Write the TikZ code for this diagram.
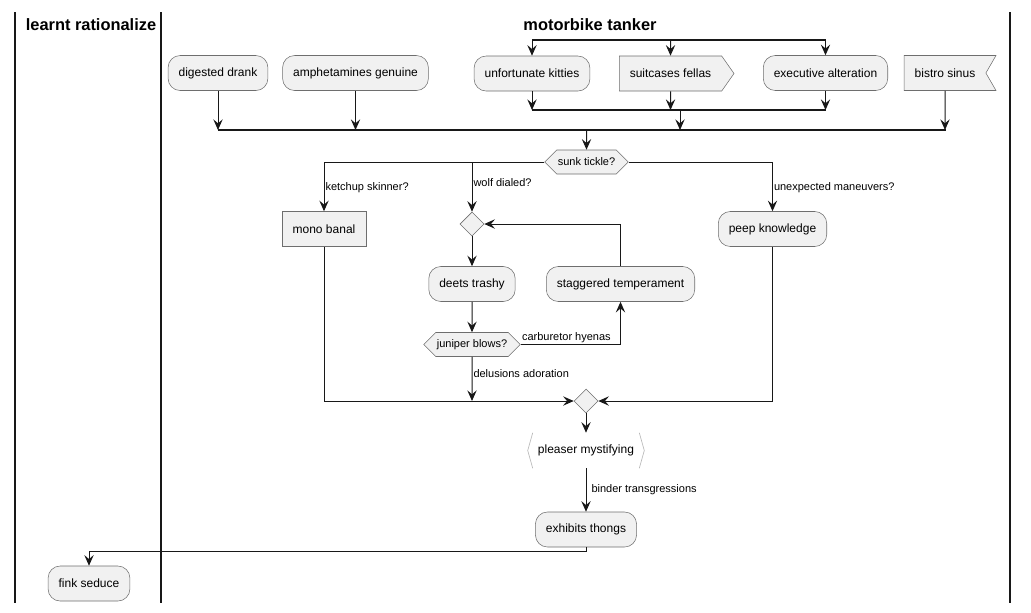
\documentclass[tikz,border=0pt]{standalone}
\usepackage{fontspec}
\setmainfont{Liberation Sans}
\usetikzlibrary{arrows.meta, shapes.geometric, shapes.symbols, positioning, calc}
\definecolor{boxfill}{HTML}{F1F1F1}
\definecolor{ink}{HTML}{181818}
\definecolor{edge}{HTML}{6E6E6E}
\tikzset{
  action/.style={draw=edge, line width=0.4pt, fill=boxfill, rounded corners=9pt,
    minimum height=26.25pt, inner xsep=7.9pt, font=\fontsize{9}{11}\selectfont},
  plainbox/.style={action, sharp corners},
  sendbox/.style={plainbox, shape=signal, signal to=east, signal from=nowhere,
    signal pointer angle=110},
  acceptbox/.style={plainbox, shape=signal, signal to=nowhere, signal from=east,
    signal pointer angle=120},
  choice/.style={draw=edge, line width=0.4pt, fill=boxfill, shape=signal,
    signal to=east and west, signal pointer angle=90, minimum height=18pt,
    inner xsep=0.75pt, inner ysep=0pt, font=\fontsize{8.25}{10}\selectfont},
  merge/.style={draw=edge, line width=0.4pt, fill=boxfill, shape=diamond,
    minimum size=18pt, inner sep=0pt},
  inbox/.style={minimum height=26.25pt, inner xsep=7.5pt, font=\fontsize{9}{11}\selectfont},
  bracket/.style={draw=gray!55, line width=0.5pt},
  flow/.style={draw=ink, line width=0.75pt, -{Stealth[length=8pt, width=7pt, inset=3pt]}},
  bar/.style={draw=ink, line width=1.1pt},
  lane/.style={draw=ink, line width=1.1pt},
  lbl/.style={font=\fontsize{8.25}{10}\selectfont, inner sep=0.75pt},
  title/.style={font=\bfseries\fontsize{12.3}{14}\selectfont}
}
\begin{document}
\begin{tikzpicture}[x=0.75pt, y=-0.75pt]
\useasboundingbox (0,0) rectangle (1031,612);
% swimlanes
\draw[lane] (15,12) -- (15,603);
\draw[lane] (161,12) -- (161,603);
\draw[lane] (1010,12) -- (1010,603);
\node[title, anchor=base] (lanea) at (91,30) {learnt rationalize};
\node[title, anchor=base] (laneb) at (590,30) {motorbike tanker};
% first row
\node[action] (dd) at (218,73) {digested drank};
\node[action] (ag) at (355.5,73) {amphetamines genuine};
\node[action] (uk) at (532,73.5) {unfortunate kitties};
\node[sendbox] (sf) at (670.5,73.5) {suitcases fellas};
\node[action] (ea) at (825.5,73) {executive alteration};
\node[acceptbox] (bs) at (945,73) {bistro sinus};
% fork and joins
\coordinate (fork) at (532,40);
\coordinate (forkend) at (826,40);
\coordinate (joina) at (532,110);
\coordinate (joinaend) at (826,110);
\coordinate (joinaout) at (680,110);
\coordinate (joinb) at (218,130);
\coordinate (joinbend) at (946,130);
\coordinate (joinbout) at (586.5,130);
\draw[bar] (fork) -- (forkend);
\draw[bar] (joina) -- (joinaend);
\draw[bar] (joinb) -- (joinbend);
\foreach \n in {uk, sf, ea} {
  \draw[flow] (\n.north |- fork) -- (\n);
  \draw[flow] (\n) -- (\n.south |- joina);
}
\foreach \n in {dd, ag, bs}
  \draw[flow] (\n) -- (\n.south |- joinb);
\draw[flow] (joinaout) -- (joinaout |- joinb);
% decision
\node[choice] (st) at (586.5,162) {sunk tickle?};
\draw[flow] (joinbout) -- (st);
\node[plainbox] (mb) at (324,229) {mono banal};
\node[merge] (loop) at (472,224) {};
\node[action] (pk) at (772.5,229) {peep knowledge};
\draw[flow] (st.west) -| node[lbl, pos=0.765, anchor=west] {ketchup skinner?} (mb);
\draw[flow] (st.west) -| node[lbl, pos=0.71, anchor=west] {wolf dialed?} (loop);
\draw[flow] (st.east) -| node[lbl, pos=0.765, anchor=west] {unexpected maneuvers?} (pk);
% repeat loop
\node[action] (dt) at (472,284) {deets trashy};
\node[action] (stg) at (620.5,284) {staggered temperament};
\node[choice] (jb) at (472,344.5) {juniper blows?};
\draw[flow] (loop) -- (dt);
\draw[flow] (dt) -- (jb);
\draw[flow] (jb.east) -| node[lbl, pos=0, anchor=south west] {carburetor hyenas} (stg);
\draw[flow] (stg.north) |- (loop.east);
% merge
\node[merge] (mrg) at (586,401) {};
\draw[flow] (jb) -- node[lbl, pos=0.39, anchor=west] {delusions adoration} (jb.south |- mrg);
\draw[flow] (mb) |- (mrg);
\draw[flow] (pk) |- (mrg);
% end
\node[inbox] (pm) at (586,450.5) {pleaser mystifying};
\draw[bracket] ([xshift=3.75pt]pm.north west) -- (pm.west) -- ([xshift=3.75pt]pm.south west);
\draw[bracket] ([xshift=-3.75pt]pm.north east) -- (pm.east) -- ([xshift=-3.75pt]pm.south east);
\draw[flow] (mrg) -- (pm);
\node[action] (et) at (586,529.5) {exhibits thongs};
\draw[flow] (pm) -- node[lbl, anchor=west, xshift=3pt] {binder transgressions} (et);
\node[action] (fs) at (89,583.5) {fink seduce};
\draw[flow] (et.south) -- ++(0,4) -| (fs);
\end{tikzpicture}
\end{document}
